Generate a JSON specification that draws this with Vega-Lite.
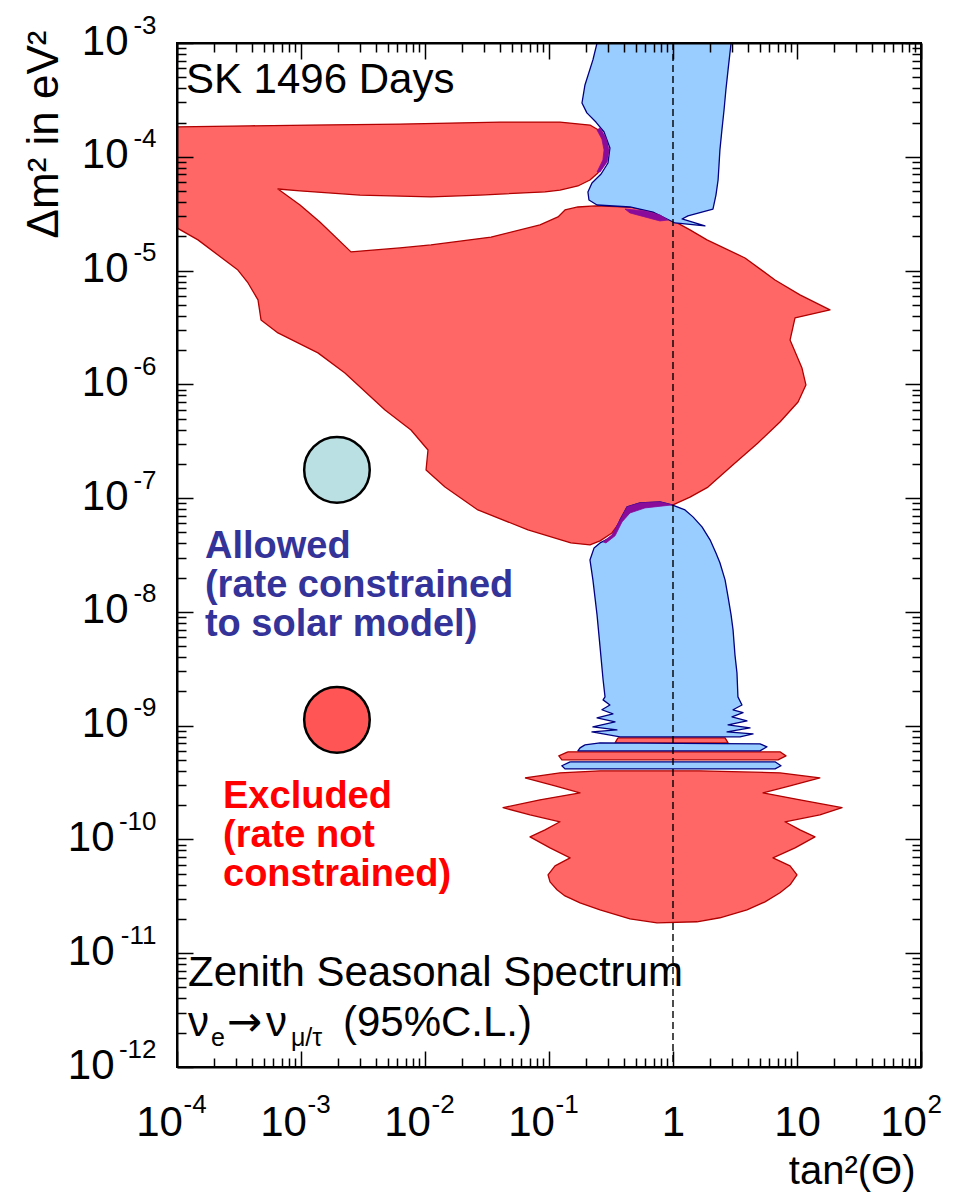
{
  "$schema": "https://vega.github.io/schema/vega-lite/v6.json",
  "width": 744,
  "height": 1024,
  "autosize": "none",
  "padding": {"left": 177, "top": 43, "right": 36, "bottom": 132},
  "background": "white",
  "config": {
    "view": {"stroke": "black", "strokeWidth": 2},
    "axis": {"grid": false, "domain": false, "labelFont": "Liberation Sans", "titleFont": "Liberation Sans", "labelColor": "black", "titleColor": "black", "tickColor": "black", "labelOverlap": false, "labelFlush": false, "labelBound": false},
    "text": {"font": "Liberation Sans"}
  },
  "datasets": {
    "contours": [
      {"region": "R1", "kind": "excluded", "i": 1, "tan2": 1e-4, "dm2": 1.83e-4},
      {"region": "R1", "kind": "excluded", "i": 2, "tan2": 3.88e-4, "dm2": 1.87e-4},
      {"region": "R1", "kind": "excluded", "i": 3, "tan2": 1.18e-3, "dm2": 1.90e-4},
      {"region": "R1", "kind": "excluded", "i": 4, "tan2": 6.28e-3, "dm2": 1.94e-4},
      {"region": "R1", "kind": "excluded", "i": 5, "tan2": 4.03e-2, "dm2": 2.02e-4},
      {"region": "R1", "kind": "excluded", "i": 6, "tan2": 0.1227, "dm2": 2.02e-4},
      {"region": "R1", "kind": "excluded", "i": 7, "tan2": 0.214, "dm2": 1.90e-4},
      {"region": "R1", "kind": "excluded", "i": 8, "tan2": 0.267, "dm2": 1.65e-4},
      {"region": "R1", "kind": "excluded", "i": 9, "tan2": 0.294, "dm2": 1.32e-4},
      {"region": "R1", "kind": "excluded", "i": 10, "tan2": 0.299, "dm2": 1.08e-4},
      {"region": "R1", "kind": "excluded", "i": 11, "tan2": 0.283, "dm2": 8.82e-5},
      {"region": "R1", "kind": "excluded", "i": 12, "tan2": 0.248, "dm2": 7.21e-5},
      {"region": "R1", "kind": "excluded", "i": 13, "tan2": 0.214, "dm2": 6.25e-5},
      {"region": "R1", "kind": "excluded", "i": 14, "tan2": 0.171, "dm2": 5.54e-5},
      {"region": "R1", "kind": "excluded", "i": 15, "tan2": 0.1227, "dm2": 5.10e-5},
      {"region": "R1", "kind": "excluded", "i": 16, "tan2": 9.29e-2, "dm2": 4.91e-5},
      {"region": "R1", "kind": "excluded", "i": 17, "tan2": 2.78e-2, "dm2": 4.61e-5},
      {"region": "R1", "kind": "excluded", "i": 18, "tan2": 1.118e-2, "dm2": 4.44e-5},
      {"region": "R1", "kind": "excluded", "i": 19, "tan2": 2.99e-3, "dm2": 4.61e-5},
      {"region": "R1", "kind": "excluded", "i": 20, "tan2": 9.82e-4, "dm2": 5.01e-5},
      {"region": "R1", "kind": "excluded", "i": 21, "tan2": 6.52e-4, "dm2": 5.21e-5},
      {"region": "R1", "kind": "excluded", "i": 22, "tan2": 9.82e-4, "dm2": 3.77e-5},
      {"region": "R1", "kind": "excluded", "i": 23, "tan2": 1.42e-3, "dm2": 2.67e-5},
      {"region": "R1", "kind": "excluded", "i": 24, "tan2": 2.53e-3, "dm2": 1.46e-5},
      {"region": "R1", "kind": "excluded", "i": 25, "tan2": 6.28e-3, "dm2": 1.58e-5},
      {"region": "R1", "kind": "excluded", "i": 26, "tan2": 1.118e-2, "dm2": 1.68e-5},
      {"region": "R1", "kind": "excluded", "i": 27, "tan2": 3.41e-2, "dm2": 1.97e-5},
      {"region": "R1", "kind": "excluded", "i": 28, "tan2": 8.46e-2, "dm2": 2.52e-5},
      {"region": "R1", "kind": "excluded", "i": 29, "tan2": 0.1182, "dm2": 2.96e-5},
      {"region": "R1", "kind": "excluded", "i": 30, "tan2": 0.1346, "dm2": 3.41e-5},
      {"region": "R1", "kind": "excluded", "i": 31, "tan2": 0.171, "dm2": 3.62e-5},
      {"region": "R1", "kind": "excluded", "i": 32, "tan2": 0.235, "dm2": 3.70e-5},
      {"region": "R1", "kind": "excluded", "i": 33, "tan2": 0.450, "dm2": 3.62e-5},
      {"region": "R1", "kind": "excluded", "i": 34, "tan2": 0.652, "dm2": 3.34e-5},
      {"region": "R1", "kind": "excluded", "i": 35, "tan2": 0.912, "dm2": 2.90e-5},
      {"region": "R1", "kind": "excluded", "i": 36, "tan2": 1.371, "dm2": 2.28e-5},
      {"region": "R1", "kind": "excluded", "i": 37, "tan2": 1.88, "dm2": 1.86e-5},
      {"region": "R1", "kind": "excluded", "i": 38, "tan2": 3.81, "dm2": 1.29e-5},
      {"region": "R1", "kind": "excluded", "i": 39, "tan2": 6.65, "dm2": 8.27e-6},
      {"region": "R1", "kind": "excluded", "i": 40, "tan2": 10.57, "dm2": 6.11e-6},
      {"region": "R1", "kind": "excluded", "i": 41, "tan2": 18.45, "dm2": 4.51e-6},
      {"region": "R1", "kind": "excluded", "i": 42, "tan2": 9.64, "dm2": 3.83e-6},
      {"region": "R1", "kind": "excluded", "i": 43, "tan2": 8.79, "dm2": 2.45e-6},
      {"region": "R1", "kind": "excluded", "i": 44, "tan2": 10.97, "dm2": 1.39e-6},
      {"region": "R1", "kind": "excluded", "i": 45, "tan2": 11.8, "dm2": 9.88e-7},
      {"region": "R1", "kind": "excluded", "i": 46, "tan2": 10.2, "dm2": 7.00e-7},
      {"region": "R1", "kind": "excluded", "i": 47, "tan2": 7.29, "dm2": 4.67e-7},
      {"region": "R1", "kind": "excluded", "i": 48, "tan2": 4.84, "dm2": 3.05e-7},
      {"region": "R1", "kind": "excluded", "i": 49, "tan2": 3.05, "dm2": 1.96e-7},
      {"region": "R1", "kind": "excluded", "i": 50, "tan2": 1.915, "dm2": 1.25e-7},
      {"region": "R1", "kind": "excluded", "i": 51, "tan2": 1.371, "dm2": 1.02e-7},
      {"region": "R1", "kind": "excluded", "i": 52, "tan2": 1.0, "dm2": 8.71e-8},
      {"region": "R1", "kind": "excluded", "i": 53, "tan2": 0.652, "dm2": 8.54e-8},
      {"region": "R1", "kind": "excluded", "i": 54, "tan2": 0.450, "dm2": 7.57e-8},
      {"region": "R1", "kind": "excluded", "i": 55, "tan2": 0.374, "dm2": 6.18e-8},
      {"region": "R1", "kind": "excluded", "i": 56, "tan2": 0.322, "dm2": 4.94e-8},
      {"region": "R1", "kind": "excluded", "i": 57, "tan2": 0.258, "dm2": 4.21e-8},
      {"region": "R1", "kind": "excluded", "i": 58, "tan2": 0.214, "dm2": 3.88e-8},
      {"region": "R1", "kind": "excluded", "i": 59, "tan2": 0.150, "dm2": 4.04e-8},
      {"region": "R1", "kind": "excluded", "i": 60, "tan2": 6.77e-2, "dm2": 5.26e-8},
      {"region": "R1", "kind": "excluded", "i": 61, "tan2": 2.67e-2, "dm2": 7.87e-8},
      {"region": "R1", "kind": "excluded", "i": 62, "tan2": 1.45e-2, "dm2": 1.25e-7},
      {"region": "R1", "kind": "excluded", "i": 63, "tan2": 1.02e-2, "dm2": 1.77e-7},
      {"region": "R1", "kind": "excluded", "i": 64, "tan2": 1.057e-2, "dm2": 2.65e-7},
      {"region": "R1", "kind": "excluded", "i": 65, "tan2": 7.71e-3, "dm2": 3.97e-7},
      {"region": "R1", "kind": "excluded", "i": 66, "tan2": 4.76e-3, "dm2": 5.96e-7},
      {"region": "R1", "kind": "excluded", "i": 67, "tan2": 2.26e-3, "dm2": 1.26e-6},
      {"region": "R1", "kind": "excluded", "i": 68, "tan2": 1.37e-3, "dm2": 1.89e-6},
      {"region": "R1", "kind": "excluded", "i": 69, "tan2": 6.52e-4, "dm2": 2.83e-6},
      {"region": "R1", "kind": "excluded", "i": 70, "tan2": 4.76e-4, "dm2": 3.68e-6},
      {"region": "R1", "kind": "excluded", "i": 71, "tan2": 4.50e-4, "dm2": 5.52e-6},
      {"region": "R1", "kind": "excluded", "i": 72, "tan2": 3.74e-4, "dm2": 7.78e-6},
      {"region": "R1", "kind": "excluded", "i": 73, "tan2": 3.10e-4, "dm2": 1.01e-5},
      {"region": "R1", "kind": "excluded", "i": 74, "tan2": 1.476e-4, "dm2": 1.86e-5},
      {"region": "R1", "kind": "excluded", "i": 75, "tan2": 1e-4, "dm2": 2.37e-5},
      {"region": "R1", "kind": "excluded", "i": 76, "tan2": 1e-4, "dm2": 1.83e-4},

      {"region": "R2", "kind": "excluded", "i": 1, "tan2": 0.0640, "dm2": 3.47e-10},
      {"region": "R2", "kind": "excluded", "i": 2, "tan2": 0.1227, "dm2": 3.85e-10},
      {"region": "R2", "kind": "excluded", "i": 3, "tan2": 0.258, "dm2": 4.01e-10},
      {"region": "R2", "kind": "excluded", "i": 4, "tan2": 1.65, "dm2": 4.01e-10},
      {"region": "R2", "kind": "excluded", "i": 5, "tan2": 7.29, "dm2": 3.85e-10},
      {"region": "R2", "kind": "excluded", "i": 6, "tan2": 15.3, "dm2": 3.47e-10},
      {"region": "R2", "kind": "excluded", "i": 7, "tan2": 8.79, "dm2": 2.96e-10},
      {"region": "R2", "kind": "excluded", "i": 8, "tan2": 5.32, "dm2": 2.57e-10},
      {"region": "R2", "kind": "excluded", "i": 9, "tan2": 10.57, "dm2": 2.23e-10},
      {"region": "R2", "kind": "excluded", "i": 10, "tan2": 23.1, "dm2": 1.90e-10},
      {"region": "R2", "kind": "excluded", "i": 11, "tan2": 15.3, "dm2": 1.645e-10},
      {"region": "R2", "kind": "excluded", "i": 12, "tan2": 8.0, "dm2": 1.43e-10},
      {"region": "R2", "kind": "excluded", "i": 13, "tan2": 10.57, "dm2": 1.214e-10},
      {"region": "R2", "kind": "excluded", "i": 14, "tan2": 13.97, "dm2": 1.054e-10},
      {"region": "R2", "kind": "excluded", "i": 15, "tan2": 9.64, "dm2": 8.44e-11},
      {"region": "R2", "kind": "excluded", "i": 16, "tan2": 6.40, "dm2": 6.89e-11},
      {"region": "R2", "kind": "excluded", "i": 17, "tan2": 8.79, "dm2": 5.86e-11},
      {"region": "R2", "kind": "excluded", "i": 18, "tan2": 10.0, "dm2": 4.89e-11},
      {"region": "R2", "kind": "excluded", "i": 19, "tan2": 8.79, "dm2": 3.99e-11},
      {"region": "R2", "kind": "excluded", "i": 20, "tan2": 7.29, "dm2": 3.40e-11},
      {"region": "R2", "kind": "excluded", "i": 21, "tan2": 5.52, "dm2": 2.83e-11},
      {"region": "R2", "kind": "excluded", "i": 22, "tan2": 3.95, "dm2": 2.40e-11},
      {"region": "R2", "kind": "excluded", "i": 23, "tan2": 2.39, "dm2": 2.05e-11},
      {"region": "R2", "kind": "excluded", "i": 24, "tan2": 1.56, "dm2": 1.89e-11},
      {"region": "R2", "kind": "excluded", "i": 25, "tan2": 0.743, "dm2": 1.85e-11},
      {"region": "R2", "kind": "excluded", "i": 26, "tan2": 0.450, "dm2": 2.00e-11},
      {"region": "R2", "kind": "excluded", "i": 27, "tan2": 0.258, "dm2": 2.40e-11},
      {"region": "R2", "kind": "excluded", "i": 28, "tan2": 0.178, "dm2": 2.77e-11},
      {"region": "R2", "kind": "excluded", "i": 29, "tan2": 0.1346, "dm2": 3.19e-11},
      {"region": "R2", "kind": "excluded", "i": 30, "tan2": 0.116, "dm2": 3.61e-11},
      {"region": "R2", "kind": "excluded", "i": 31, "tan2": 0.1019, "dm2": 4.24e-11},
      {"region": "R2", "kind": "excluded", "i": 32, "tan2": 0.0982, "dm2": 4.89e-11},
      {"region": "R2", "kind": "excluded", "i": 33, "tan2": 0.1118, "dm2": 5.86e-11},
      {"region": "R2", "kind": "excluded", "i": 34, "tan2": 0.148, "dm2": 6.89e-11},
      {"region": "R2", "kind": "excluded", "i": 35, "tan2": 0.1019, "dm2": 8.44e-11},
      {"region": "R2", "kind": "excluded", "i": 36, "tan2": 0.0703, "dm2": 1.054e-10},
      {"region": "R2", "kind": "excluded", "i": 37, "tan2": 0.0929, "dm2": 1.214e-10},
      {"region": "R2", "kind": "excluded", "i": 38, "tan2": 0.1227, "dm2": 1.43e-10},
      {"region": "R2", "kind": "excluded", "i": 39, "tan2": 0.0703, "dm2": 1.645e-10},
      {"region": "R2", "kind": "excluded", "i": 40, "tan2": 0.0426, "dm2": 1.90e-10},
      {"region": "R2", "kind": "excluded", "i": 41, "tan2": 0.0846, "dm2": 2.23e-10},
      {"region": "R2", "kind": "excluded", "i": 42, "tan2": 0.178, "dm2": 2.57e-10},
      {"region": "R2", "kind": "excluded", "i": 43, "tan2": 0.1118, "dm2": 2.96e-10},
      {"region": "R2", "kind": "excluded", "i": 44, "tan2": 0.0640, "dm2": 3.47e-10},

      {"region": "S1", "kind": "excluded", "i": 1, "tan2": 0.360, "dm2": 7.82e-10},
      {"region": "S1", "kind": "excluded", "i": 2, "tan2": 2.63, "dm2": 7.82e-10},
      {"region": "S1", "kind": "excluded", "i": 3, "tan2": 2.78, "dm2": 7.06e-10},
      {"region": "S1", "kind": "excluded", "i": 4, "tan2": 0.341, "dm2": 7.06e-10},
      {"region": "S1", "kind": "excluded", "i": 5, "tan2": 0.360, "dm2": 7.82e-10},

      {"region": "S3", "kind": "excluded", "i": 1, "tan2": 0.142, "dm2": 5.89e-10},
      {"region": "S3", "kind": "excluded", "i": 2, "tan2": 7.29, "dm2": 5.89e-10},
      {"region": "S3", "kind": "excluded", "i": 3, "tan2": 8.15, "dm2": 5.43e-10},
      {"region": "S3", "kind": "excluded", "i": 4, "tan2": 7.03, "dm2": 5.01e-10},
      {"region": "S3", "kind": "excluded", "i": 5, "tan2": 0.127, "dm2": 5.01e-10},
      {"region": "S3", "kind": "excluded", "i": 6, "tan2": 0.120, "dm2": 5.43e-10},
      {"region": "S3", "kind": "excluded", "i": 7, "tan2": 0.142, "dm2": 5.89e-10},

      {"region": "B1", "kind": "allowed", "i": 1, "tan2": 0.244, "dm2": 1e-3},
      {"region": "B1", "kind": "allowed", "i": 2, "tan2": 0.226, "dm2": 7.10e-4},
      {"region": "B1", "kind": "allowed", "i": 3, "tan2": 0.195, "dm2": 4.28e-4},
      {"region": "B1", "kind": "allowed", "i": 4, "tan2": 0.1845, "dm2": 2.97e-4},
      {"region": "B1", "kind": "allowed", "i": 5, "tan2": 0.202, "dm2": 2.43e-4},
      {"region": "B1", "kind": "allowed", "i": 6, "tan2": 0.239, "dm2": 2.02e-4},
      {"region": "B1", "kind": "allowed", "i": 7, "tan2": 0.278, "dm2": 1.65e-4},
      {"region": "B1", "kind": "allowed", "i": 8, "tan2": 0.310, "dm2": 1.195e-4},
      {"region": "B1", "kind": "allowed", "i": 9, "tan2": 0.299, "dm2": 8.82e-5},
      {"region": "B1", "kind": "allowed", "i": 10, "tan2": 0.263, "dm2": 7.06e-5},
      {"region": "B1", "kind": "allowed", "i": 11, "tan2": 0.222, "dm2": 5.89e-5},
      {"region": "B1", "kind": "allowed", "i": 12, "tan2": 0.206, "dm2": 4.91e-5},
      {"region": "B1", "kind": "allowed", "i": 13, "tan2": 0.210, "dm2": 4.17e-5},
      {"region": "B1", "kind": "allowed", "i": 14, "tan2": 0.244, "dm2": 3.77e-5},
      {"region": "B1", "kind": "allowed", "i": 15, "tan2": 0.450, "dm2": 3.62e-5},
      {"region": "B1", "kind": "allowed", "i": 16, "tan2": 0.690, "dm2": 3.27e-5},
      {"region": "B1", "kind": "allowed", "i": 17, "tan2": 0.895, "dm2": 2.84e-5},
      {"region": "B1", "kind": "allowed", "i": 18, "tan2": 1.038, "dm2": 2.62e-5},
      {"region": "B1", "kind": "allowed", "i": 19, "tan2": 1.81, "dm2": 2.47e-5},
      {"region": "B1", "kind": "allowed", "i": 20, "tan2": 1.182, "dm2": 2.84e-5},
      {"region": "B1", "kind": "allowed", "i": 21, "tan2": 1.32, "dm2": 3.02e-5},
      {"region": "B1", "kind": "allowed", "i": 22, "tan2": 2.10, "dm2": 3.47e-5},
      {"region": "B1", "kind": "allowed", "i": 23, "tan2": 2.22, "dm2": 4.61e-5},
      {"region": "B1", "kind": "allowed", "i": 24, "tan2": 2.31, "dm2": 6.25e-5},
      {"region": "B1", "kind": "allowed", "i": 25, "tan2": 2.35, "dm2": 8.47e-5},
      {"region": "B1", "kind": "allowed", "i": 26, "tan2": 2.39, "dm2": 1.148e-4},
      {"region": "B1", "kind": "allowed", "i": 27, "tan2": 2.48, "dm2": 1.72e-4},
      {"region": "B1", "kind": "allowed", "i": 28, "tan2": 2.58, "dm2": 2.58e-4},
      {"region": "B1", "kind": "allowed", "i": 29, "tan2": 2.67, "dm2": 3.86e-4},
      {"region": "B1", "kind": "allowed", "i": 30, "tan2": 2.78, "dm2": 5.80e-4},
      {"region": "B1", "kind": "allowed", "i": 31, "tan2": 2.94, "dm2": 1e-3},
      {"region": "B1", "kind": "allowed", "i": 32, "tan2": 0.244, "dm2": 1e-3},

      {"region": "B2", "kind": "allowed", "i": 1, "tan2": 0.982, "dm2": 8.71e-8},
      {"region": "B2", "kind": "allowed", "i": 2, "tan2": 1.250, "dm2": 7.87e-8},
      {"region": "B2", "kind": "allowed", "i": 3, "tan2": 1.449, "dm2": 6.84e-8},
      {"region": "B2", "kind": "allowed", "i": 4, "tan2": 1.714, "dm2": 5.58e-8},
      {"region": "B2", "kind": "allowed", "i": 5, "tan2": 1.99, "dm2": 4.30e-8},
      {"region": "B2", "kind": "allowed", "i": 6, "tan2": 2.22, "dm2": 3.30e-8},
      {"region": "B2", "kind": "allowed", "i": 7, "tan2": 2.39, "dm2": 2.70e-8},
      {"region": "B2", "kind": "allowed", "i": 8, "tan2": 2.63, "dm2": 1.91e-8},
      {"region": "B2", "kind": "allowed", "i": 9, "tan2": 2.78, "dm2": 1.355e-8},
      {"region": "B2", "kind": "allowed", "i": 10, "tan2": 2.94, "dm2": 9.41e-9},
      {"region": "B2", "kind": "allowed", "i": 11, "tan2": 3.05, "dm2": 6.95e-9},
      {"region": "B2", "kind": "allowed", "i": 12, "tan2": 3.16, "dm2": 4.19e-9},
      {"region": "B2", "kind": "allowed", "i": 13, "tan2": 3.28, "dm2": 2.91e-9},
      {"region": "B2", "kind": "allowed", "i": 14, "tan2": 3.34, "dm2": 1.79e-9},
      {"region": "B2", "kind": "allowed", "i": 15, "tan2": 3.60, "dm2": 1.52e-9},
      {"region": "B2", "kind": "allowed", "i": 16, "tan2": 3.05, "dm2": 1.38e-9},
      {"region": "B2", "kind": "allowed", "i": 17, "tan2": 3.67, "dm2": 1.30e-9},
      {"region": "B2", "kind": "allowed", "i": 18, "tan2": 2.99, "dm2": 1.195e-9},
      {"region": "B2", "kind": "allowed", "i": 19, "tan2": 3.95, "dm2": 1.10e-9},
      {"region": "B2", "kind": "allowed", "i": 20, "tan2": 2.78, "dm2": 1.016e-9},
      {"region": "B2", "kind": "allowed", "i": 21, "tan2": 4.18, "dm2": 9.57e-10},
      {"region": "B2", "kind": "allowed", "i": 22, "tan2": 2.73, "dm2": 8.82e-10},
      {"region": "B2", "kind": "allowed", "i": 23, "tan2": 4.42, "dm2": 8.47e-10},
      {"region": "B2", "kind": "allowed", "i": 24, "tan2": 3.47, "dm2": 7.98e-10},
      {"region": "B2", "kind": "allowed", "i": 25, "tan2": 0.982, "dm2": 7.98e-10},
      {"region": "B2", "kind": "allowed", "i": 26, "tan2": 0.374, "dm2": 7.98e-10},
      {"region": "B2", "kind": "allowed", "i": 27, "tan2": 0.222, "dm2": 8.82e-10},
      {"region": "B2", "kind": "allowed", "i": 28, "tan2": 0.353, "dm2": 9.18e-10},
      {"region": "B2", "kind": "allowed", "i": 29, "tan2": 0.226, "dm2": 9.76e-10},
      {"region": "B2", "kind": "allowed", "i": 30, "tan2": 0.341, "dm2": 1.08e-9},
      {"region": "B2", "kind": "allowed", "i": 31, "tan2": 0.244, "dm2": 1.17e-9},
      {"region": "B2", "kind": "allowed", "i": 32, "tan2": 0.328, "dm2": 1.27e-9},
      {"region": "B2", "kind": "allowed", "i": 33, "tan2": 0.267, "dm2": 1.38e-9},
      {"region": "B2", "kind": "allowed", "i": 34, "tan2": 0.310, "dm2": 1.52e-9},
      {"region": "B2", "kind": "allowed", "i": 35, "tan2": 0.273, "dm2": 1.685e-9},
      {"region": "B2", "kind": "allowed", "i": 36, "tan2": 0.283, "dm2": 1.79e-9},
      {"region": "B2", "kind": "allowed", "i": 37, "tan2": 0.273, "dm2": 2.53e-9},
      {"region": "B2", "kind": "allowed", "i": 38, "tan2": 0.258, "dm2": 4.93e-9},
      {"region": "B2", "kind": "allowed", "i": 39, "tan2": 0.244, "dm2": 9.41e-9},
      {"region": "B2", "kind": "allowed", "i": 40, "tan2": 0.226, "dm2": 1.91e-8},
      {"region": "B2", "kind": "allowed", "i": 41, "tan2": 0.214, "dm2": 2.86e-8},
      {"region": "B2", "kind": "allowed", "i": 42, "tan2": 0.231, "dm2": 3.65e-8},
      {"region": "B2", "kind": "allowed", "i": 43, "tan2": 0.258, "dm2": 4.04e-8},
      {"region": "B2", "kind": "allowed", "i": 44, "tan2": 0.322, "dm2": 4.56e-8},
      {"region": "B2", "kind": "allowed", "i": 45, "tan2": 0.374, "dm2": 6.43e-8},
      {"region": "B2", "kind": "allowed", "i": 46, "tan2": 0.426, "dm2": 8.37e-8},
      {"region": "B2", "kind": "allowed", "i": 47, "tan2": 0.542, "dm2": 9.07e-8},
      {"region": "B2", "kind": "allowed", "i": 48, "tan2": 0.785, "dm2": 9.26e-8},
      {"region": "B2", "kind": "allowed", "i": 49, "tan2": 0.982, "dm2": 8.71e-8},

      {"region": "S2", "kind": "allowed", "i": 1, "tan2": 0.195, "dm2": 6.78e-10},
      {"region": "S2", "kind": "allowed", "i": 2, "tan2": 0.258, "dm2": 7.06e-10},
      {"region": "S2", "kind": "allowed", "i": 3, "tan2": 5.03, "dm2": 6.92e-10},
      {"region": "S2", "kind": "allowed", "i": 4, "tan2": 5.73, "dm2": 6.52e-10},
      {"region": "S2", "kind": "allowed", "i": 5, "tan2": 5.03, "dm2": 6.01e-10},
      {"region": "S2", "kind": "allowed", "i": 6, "tan2": 0.171, "dm2": 6.01e-10},
      {"region": "S2", "kind": "allowed", "i": 7, "tan2": 0.178, "dm2": 6.38e-10},
      {"region": "S2", "kind": "allowed", "i": 8, "tan2": 0.195, "dm2": 6.78e-10},

      {"region": "S4", "kind": "allowed", "i": 1, "tan2": 0.148, "dm2": 4.81e-10},
      {"region": "S4", "kind": "allowed", "i": 2, "tan2": 6.65, "dm2": 4.81e-10},
      {"region": "S4", "kind": "allowed", "i": 3, "tan2": 7.43, "dm2": 4.44e-10},
      {"region": "S4", "kind": "allowed", "i": 4, "tan2": 6.65, "dm2": 4.17e-10},
      {"region": "S4", "kind": "allowed", "i": 5, "tan2": 0.1346, "dm2": 4.17e-10},
      {"region": "S4", "kind": "allowed", "i": 6, "tan2": 0.127, "dm2": 4.44e-10},
      {"region": "S4", "kind": "allowed", "i": 7, "tan2": 0.148, "dm2": 4.81e-10},

      {"region": "P1", "kind": "overlap", "i": 1, "tan2": 0.258, "dm2": 1.79e-4},
      {"region": "P1", "kind": "overlap", "i": 2, "tan2": 0.288, "dm2": 1.46e-4},
      {"region": "P1", "kind": "overlap", "i": 3, "tan2": 0.305, "dm2": 1.148e-4},
      {"region": "P1", "kind": "overlap", "i": 4, "tan2": 0.294, "dm2": 9.0e-5},
      {"region": "P1", "kind": "overlap", "i": 5, "tan2": 0.258, "dm2": 7.35e-5},
      {"region": "P1", "kind": "overlap", "i": 6, "tan2": 0.244, "dm2": 7.35e-5},
      {"region": "P1", "kind": "overlap", "i": 7, "tan2": 0.272, "dm2": 9.37e-5},
      {"region": "P1", "kind": "overlap", "i": 8, "tan2": 0.278, "dm2": 1.148e-4},
      {"region": "P1", "kind": "overlap", "i": 9, "tan2": 0.267, "dm2": 1.43e-4},
      {"region": "P1", "kind": "overlap", "i": 10, "tan2": 0.244, "dm2": 1.72e-4},
      {"region": "P1", "kind": "overlap", "i": 11, "tan2": 0.258, "dm2": 1.79e-4},

      {"region": "P2", "kind": "overlap", "i": 1, "tan2": 0.410, "dm2": 3.47e-5},
      {"region": "P2", "kind": "overlap", "i": 2, "tan2": 0.594, "dm2": 3.34e-5},
      {"region": "P2", "kind": "overlap", "i": 3, "tan2": 0.785, "dm2": 3.08e-5},
      {"region": "P2", "kind": "overlap", "i": 4, "tan2": 0.912, "dm2": 2.78e-5},
      {"region": "P2", "kind": "overlap", "i": 5, "tan2": 0.785, "dm2": 2.73e-5},
      {"region": "P2", "kind": "overlap", "i": 6, "tan2": 0.594, "dm2": 2.96e-5},
      {"region": "P2", "kind": "overlap", "i": 7, "tan2": 0.450, "dm2": 3.21e-5},
      {"region": "P2", "kind": "overlap", "i": 8, "tan2": 0.410, "dm2": 3.47e-5},

      {"region": "P3", "kind": "overlap", "i": 1, "tan2": 0.273, "dm2": 4.12e-8},
      {"region": "P3", "kind": "overlap", "i": 2, "tan2": 0.322, "dm2": 4.76e-8},
      {"region": "P3", "kind": "overlap", "i": 3, "tan2": 0.374, "dm2": 6.43e-8},
      {"region": "P3", "kind": "overlap", "i": 4, "tan2": 0.426, "dm2": 8.37e-8},
      {"region": "P3", "kind": "overlap", "i": 5, "tan2": 0.542, "dm2": 9.07e-8},
      {"region": "P3", "kind": "overlap", "i": 6, "tan2": 0.785, "dm2": 9.26e-8},
      {"region": "P3", "kind": "overlap", "i": 7, "tan2": 0.982, "dm2": 8.71e-8},
      {"region": "P3", "kind": "overlap", "i": 8, "tan2": 0.594, "dm2": 8.20e-8},
      {"region": "P3", "kind": "overlap", "i": 9, "tan2": 0.450, "dm2": 7.41e-8},
      {"region": "P3", "kind": "overlap", "i": 10, "tan2": 0.388, "dm2": 6.18e-8},
      {"region": "P3", "kind": "overlap", "i": 11, "tan2": 0.341, "dm2": 4.66e-8},
      {"region": "P3", "kind": "overlap", "i": 12, "tan2": 0.288, "dm2": 4.04e-8},
      {"region": "P3", "kind": "overlap", "i": 13, "tan2": 0.273, "dm2": 4.12e-8}
    ],
    "notes": [
      {"role": "plain", "text": "SK 1496 Days", "tan2": 1.18e-4, "dm2": 3.64e-4},
      {"role": "plain", "text": "Zenith Seasonal Spectrum", "tan2": 1.227e-4, "dm2": 5.17e-12},
      {"role": "plain", "text": "ν", "tan2": 1.227e-4, "dm2": 1.88e-12},
      {"role": "arrow", "text": "→", "tan2": 2.53e-4, "dm2": 1.88e-12},
      {"role": "plain", "text": "ν", "tan2": 5.22e-4, "dm2": 1.88e-12},
      {"role": "plain", "text": "(95%C.L.)", "tan2": 2.18e-3, "dm2": 1.88e-12},
      {"role": "sub", "text": "e", "tan2": 1.88e-4, "dm2": 1.535e-12},
      {"role": "sub", "text": "μ/τ", "tan2": 8.30e-4, "dm2": 1.535e-12},
      {"role": "allowed", "text": "Allowed\n(rate constrained\nto solar model)", "tan2": 1.68e-4, "dm2": 2.98e-8},
      {"role": "excluded", "text": "Excluded\n(rate not\nconstrained)", "tan2": 2.35e-4, "dm2": 1.90e-10}
    ],
    "markers": [
      {"label": "Allowed", "tan2": 1.95e-3, "dm2": 1.77e-7},
      {"label": "Excluded", "tan2": 1.95e-3, "dm2": 1.125e-9}
    ],
    "maximal": [{"tan2": 1}]
  },
  "resolve": {"axis": {"x": "independent", "y": "independent"}},
  "layer": [
    {
      "data": {"name": "contours"},
      "transform": [{"filter": "datum.kind === 'excluded'"}],
      "mark": {"type": "line", "fill": "#ff6666", "stroke": "#b00000", "strokeWidth": 1.3, "strokeJoin": "round", "clip": true},
      "encoding": {
        "x": {"field": "tan2", "type": "quantitative", "scale": {"type": "log", "domain": [1e-4, 100], "nice": false},
          "axis": {"orient": "bottom", "values": [1e-4, 1e-3, 1e-2, 0.1, 1, 10, 100], "ticks": false, "tickSize": 0, "labelExpr": "datum.value == 1 ? '1' : '10'", "labelFontSize": 42, "labelAlign": "center", "labelBaseline": "alphabetic", "labelPadding": 68,
            "labelOffset": {"condition": {"test": "datum.value == 1 || datum.value == 10", "value": 0}, "value": -18},
            "title": "tan²(Θ)", "titleFontSize": 40, "titleFontWeight": "normal", "titleAnchor": "end", "titleAlign": "right", "titleBaseline": "alphabetic", "titleX": 738, "titleY": 116}},
        "y": {"field": "dm2", "type": "quantitative", "scale": {"type": "log", "domain": [1e-12, 1e-3], "nice": false},
          "axis": {"orient": "left", "values": [1e-12, 1e-11, 1e-10, 1e-9, 1e-8, 1e-7, 1e-6, 1e-5, 1e-4, 1e-3], "ticks": false, "tickSize": 0, "labelExpr": "'10'", "labelFontSize": 42, "labelAlign": "right", "labelBaseline": "middle", "labelOffset": -2,
            "labelPadding": {"condition": {"test": "datum.value < 5e-10", "value": 63}, "value": 49},
            "title": "Δm² in eV²", "titleFontSize": 44, "titleFontWeight": "normal", "titleAngle": 270, "titleAnchor": "end", "titleAlign": "right", "titleBaseline": "alphabetic", "titleX": -120, "titleY": -13}},
        "detail": {"field": "region"},
        "order": {"field": "i", "type": "quantitative"}
      }
    },
    {
      "data": {"name": "contours"},
      "transform": [{"filter": "datum.kind === 'allowed'"}],
      "mark": {"type": "line", "fill": "#99ccff", "stroke": "#000080", "strokeWidth": 1.3, "strokeJoin": "round", "clip": true},
      "encoding": {
        "x": {"field": "tan2", "type": "quantitative", "scale": {"type": "log", "domain": [1e-4, 100], "nice": false},
          "axis": {"orient": "bottom", "values": [1e-4, 1e-3, 1e-2, 0.1, 100], "ticks": false, "tickSize": 0, "labelExpr": "datum.value > 1 ? '2' : '-' + round(-log(datum.value) / LN10)", "labelFontSize": 26, "labelAlign": "left", "labelBaseline": "alphabetic", "labelPadding": 45, "labelOffset": 6, "title": null}},
        "y": {"field": "dm2", "type": "quantitative", "scale": {"type": "log", "domain": [1e-12, 1e-3], "nice": false},
          "axis": {"orient": "left", "values": [1e-12, 1e-11, 1e-10, 1e-9, 1e-8, 1e-7, 1e-6, 1e-5, 1e-4, 1e-3], "ticks": false, "tickSize": 0, "labelExpr": "'-' + round(-log(datum.value) / LN10)", "labelFontSize": 26, "labelAlign": "right", "labelBaseline": "middle", "labelPadding": 21, "labelOffset": -18, "title": null}},
        "detail": {"field": "region"},
        "order": {"field": "i", "type": "quantitative"}
      }
    },
    {
      "data": {"name": "contours"},
      "transform": [{"filter": "datum.kind === 'overlap'"}],
      "mark": {"type": "line", "fill": "#8a0a9a", "stroke": "#8a0a9a", "strokeWidth": 0.8, "clip": true},
      "encoding": {
        "x": {"field": "tan2", "type": "quantitative", "scale": {"type": "log", "domain": [1e-4, 100], "nice": false},
          "axis": {"orient": "bottom", "values": [1e-4, 1e-3, 1e-2, 0.1, 1, 10, 100], "labels": false, "ticks": true, "tickSize": -16, "tickWidth": 1.5, "domain": true, "domainColor": "black", "domainWidth": 2, "zindex": 2, "title": null}},
        "y": {"field": "dm2", "type": "quantitative", "scale": {"type": "log", "domain": [1e-12, 1e-3], "nice": false},
          "axis": {"orient": "left", "values": [1e-12, 1e-11, 1e-10, 1e-9, 1e-8, 1e-7, 1e-6, 1e-5, 1e-4, 1e-3], "labels": false, "ticks": true, "tickSize": -16, "tickWidth": 1.5, "domain": true, "domainColor": "black", "domainWidth": 2, "zindex": 2, "title": null}},
        "detail": {"field": "region"},
        "order": {"field": "i", "type": "quantitative"}
      }
    },
    {
      "data": {"name": "maximal"},
      "mark": {"type": "rule", "color": "black", "strokeWidth": 1.4, "strokeDash": [7, 4]},
      "encoding": {
        "x": {"field": "tan2", "type": "quantitative", "scale": {"type": "log", "domain": [1e-4, 100], "nice": false}, "axis": null}
      }
    },
    {
      "data": {"name": "markers"},
      "mark": {"type": "point", "shape": "circle", "filled": true, "size": 4300, "stroke": "black", "strokeWidth": 2.5, "opacity": 1},
      "encoding": {
        "x": {"field": "tan2", "type": "quantitative", "scale": {"type": "log", "domain": [1e-4, 100], "nice": false},
          "axis": {"orient": "top", "values": [1e-4, 1e-3, 1e-2, 0.1, 1, 10, 100], "labels": false, "ticks": true, "tickSize": -16, "tickWidth": 1.5, "domain": true, "domainColor": "black", "domainWidth": 2, "zindex": 2, "title": null}},
        "y": {"field": "dm2", "type": "quantitative", "scale": {"type": "log", "domain": [1e-12, 1e-3], "nice": false},
          "axis": {"orient": "right", "values": [1e-12, 1e-11, 1e-10, 1e-9, 1e-8, 1e-7, 1e-6, 1e-5, 1e-4, 1e-3], "labels": false, "ticks": true, "tickSize": -16, "tickWidth": 1.5, "domain": true, "domainColor": "black", "domainWidth": 2, "zindex": 2, "title": null}},
        "color": {"field": "label", "type": "nominal", "scale": {"domain": ["Allowed", "Excluded"], "range": ["#bbe0e3", "#ff5555"]}, "legend": null}
      }
    },
    {
      "data": {"name": "notes"},
      "transform": [{"filter": "datum.role === 'plain'"}],
      "mark": {"type": "text", "align": "left", "baseline": "alphabetic", "fontSize": 42, "color": "black"},
      "encoding": {
        "x": {"field": "tan2", "type": "quantitative", "scale": {"type": "log", "domain": [1e-4, 100], "nice": false},
          "axis": {"orient": "bottom", "values": [2e-4, 3e-4, 4e-4, 5e-4, 6e-4, 7e-4, 8e-4, 9e-4, 2e-3, 3e-3, 4e-3, 5e-3, 6e-3, 7e-3, 8e-3, 9e-3, 0.02, 0.03, 0.04, 0.05, 0.06, 0.07, 0.08, 0.09, 0.2, 0.3, 0.4, 0.5, 0.6, 0.7, 0.8, 0.9, 2, 3, 4, 5, 6, 7, 8, 9, 20, 30, 40, 50, 60, 70, 80, 90], "labels": false, "ticks": true, "tickSize": -9, "tickWidth": 1.5, "zindex": 2, "title": null}},
        "y": {"field": "dm2", "type": "quantitative", "scale": {"type": "log", "domain": [1e-12, 1e-3], "nice": false},
          "axis": {"orient": "left", "values": [2e-12, 3e-12, 4e-12, 5e-12, 6e-12, 7e-12, 8e-12, 9e-12, 2e-11, 3e-11, 4e-11, 5e-11, 6e-11, 7e-11, 8e-11, 9e-11, 2e-10, 3e-10, 4e-10, 5e-10, 6e-10, 7e-10, 8e-10, 9e-10, 2e-9, 3e-9, 4e-9, 5e-9, 6e-9, 7e-9, 8e-9, 9e-9, 2e-8, 3e-8, 4e-8, 5e-8, 6e-8, 7e-8, 8e-8, 9e-8, 2e-7, 3e-7, 4e-7, 5e-7, 6e-7, 7e-7, 8e-7, 9e-7, 2e-6, 3e-6, 4e-6, 5e-6, 6e-6, 7e-6, 8e-6, 9e-6, 2e-5, 3e-5, 4e-5, 5e-5, 6e-5, 7e-5, 8e-5, 9e-5, 2e-4, 3e-4, 4e-4, 5e-4, 6e-4, 7e-4, 8e-4, 9e-4], "labels": false, "ticks": true, "tickSize": -9, "tickWidth": 1.5, "zindex": 2, "title": null}},
        "text": {"field": "text"}
      }
    },
    {
      "data": {"name": "notes"},
      "transform": [{"filter": "datum.role === 'sub'"}],
      "mark": {"type": "text", "align": "left", "baseline": "alphabetic", "fontSize": 25, "color": "black"},
      "encoding": {
        "x": {"field": "tan2", "type": "quantitative", "scale": {"type": "log", "domain": [1e-4, 100], "nice": false},
          "axis": {"orient": "top", "values": [2e-4, 3e-4, 4e-4, 5e-4, 6e-4, 7e-4, 8e-4, 9e-4, 2e-3, 3e-3, 4e-3, 5e-3, 6e-3, 7e-3, 8e-3, 9e-3, 0.02, 0.03, 0.04, 0.05, 0.06, 0.07, 0.08, 0.09, 0.2, 0.3, 0.4, 0.5, 0.6, 0.7, 0.8, 0.9, 2, 3, 4, 5, 6, 7, 8, 9, 20, 30, 40, 50, 60, 70, 80, 90], "labels": false, "ticks": true, "tickSize": -9, "tickWidth": 1.5, "zindex": 2, "title": null}},
        "y": {"field": "dm2", "type": "quantitative", "scale": {"type": "log", "domain": [1e-12, 1e-3], "nice": false},
          "axis": {"orient": "right", "values": [2e-12, 3e-12, 4e-12, 5e-12, 6e-12, 7e-12, 8e-12, 9e-12, 2e-11, 3e-11, 4e-11, 5e-11, 6e-11, 7e-11, 8e-11, 9e-11, 2e-10, 3e-10, 4e-10, 5e-10, 6e-10, 7e-10, 8e-10, 9e-10, 2e-9, 3e-9, 4e-9, 5e-9, 6e-9, 7e-9, 8e-9, 9e-9, 2e-8, 3e-8, 4e-8, 5e-8, 6e-8, 7e-8, 8e-8, 9e-8, 2e-7, 3e-7, 4e-7, 5e-7, 6e-7, 7e-7, 8e-7, 9e-7, 2e-6, 3e-6, 4e-6, 5e-6, 6e-6, 7e-6, 8e-6, 9e-6, 2e-5, 3e-5, 4e-5, 5e-5, 6e-5, 7e-5, 8e-5, 9e-5, 2e-4, 3e-4, 4e-4, 5e-4, 6e-4, 7e-4, 8e-4, 9e-4], "labels": false, "ticks": true, "tickSize": -9, "tickWidth": 1.5, "zindex": 2, "title": null}},
        "text": {"field": "text"}
      }
    },
    {
      "data": {"name": "notes"},
      "transform": [{"filter": "datum.role === 'arrow'"}],
      "mark": {"type": "text", "align": "left", "baseline": "alphabetic", "fontSize": 42, "font": "DejaVu Sans", "color": "black"},
      "encoding": {
        "x": {"field": "tan2", "type": "quantitative", "scale": {"type": "log", "domain": [1e-4, 100], "nice": false}, "axis": null},
        "y": {"field": "dm2", "type": "quantitative", "scale": {"type": "log", "domain": [1e-12, 1e-3], "nice": false}, "axis": null},
        "text": {"field": "text"}
      }
    },
    {
      "data": {"name": "notes"},
      "transform": [{"filter": "datum.role === 'allowed'"}],
      "mark": {"type": "text", "align": "left", "baseline": "alphabetic", "fontSize": 38, "fontWeight": "bold", "color": "#333399", "lineBreak": "\n", "lineHeight": 39},
      "encoding": {
        "x": {"field": "tan2", "type": "quantitative", "scale": {"type": "log", "domain": [1e-4, 100], "nice": false}, "axis": null},
        "y": {"field": "dm2", "type": "quantitative", "scale": {"type": "log", "domain": [1e-12, 1e-3], "nice": false}, "axis": null},
        "text": {"field": "text"}
      }
    },
    {
      "data": {"name": "notes"},
      "transform": [{"filter": "datum.role === 'excluded'"}],
      "mark": {"type": "text", "align": "left", "baseline": "alphabetic", "fontSize": 38, "fontWeight": "bold", "color": "#ff0000", "lineBreak": "\n", "lineHeight": 39},
      "encoding": {
        "x": {"field": "tan2", "type": "quantitative", "scale": {"type": "log", "domain": [1e-4, 100], "nice": false}, "axis": null},
        "y": {"field": "dm2", "type": "quantitative", "scale": {"type": "log", "domain": [1e-12, 1e-3], "nice": false}, "axis": null},
        "text": {"field": "text"}
      }
    }
  ]
}
